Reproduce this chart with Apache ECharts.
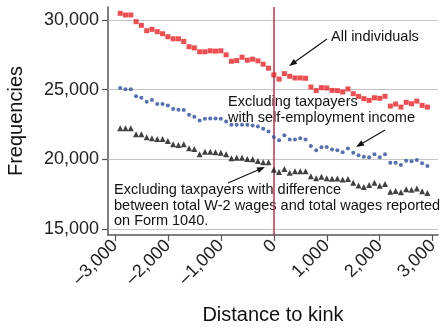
<!DOCTYPE html>
<html>
<head>
<meta charset="utf-8">
<script src="https://cdn.jsdelivr.net/npm/echarts@6/dist/echarts.min.js"></script>
<style>
  html, body { margin: 0; padding: 0; background: #fff; }
  #chart { width: 443px; height: 328px; }
</style>
</head>
<body>
<div id="chart"></div>
<script>
// Bin positions (distance to kink)
const distance = [-2900, -2800, -2700, -2600, -2500, -2400, -2300, -2200, -2100, -2000,
  -1900, -1800, -1700, -1600, -1500, -1400, -1300, -1200, -1100, -1000,
  -900, -800, -700, -600, -500, -400, -300, -200, -100, 0,
  100, 200, 300, 400, 500, 600, 700, 800, 900, 1000,
  1100, 1200, 1300, 1400, 1500, 1600, 1700, 1800, 1900, 2000,
  2100, 2200, 2300, 2400, 2500, 2600, 2700, 2800, 2900];

// All individuals
const allIndividuals = [30480, 30360, 30360, 29880, 29615, 29230, 29330, 29160, 29015, 28800,
  28650, 28650, 28460, 28080, 28000, 27720, 27720, 27790, 27765, 27790,
  27500, 27040, 27090, 27330, 27115, 27190, 27070, 26830, 26540, 26060,
  25760, 26150, 25960, 25840, 25840, 25815, 25190, 24930, 25145, 25120,
  24950, 24930, 24830, 25050, 24710, 24520, 24350, 24230, 24420, 24375,
  24520, 23820, 23970, 23750, 24090, 23990, 24180, 23870, 23750];

// Excluding taxpayers with self-employment income
const noSelfEmployment = [25120, 25024, 25024, 24520, 24423, 24135, 24255, 23966, 23966, 23870,
  23606, 23558, 23534, 23197, 23053, 22788, 22909, 22933, 22933, 22909,
  22716, 22476, 22476, 22476, 22476, 22428, 22356, 22188, 21995, 21610,
  21370, 21730, 21418, 21418, 21514, 21418, 20960, 20650, 20865, 20890,
  20700, 20650, 20505, 20770, 20480, 20290, 20190, 20145, 20360, 20145,
  20360, 19760, 19760, 19590, 19900, 19855, 19950, 19710, 19520];

// Excluding taxpayers with a W-2 / Form 1040 wage difference
const noWageDifference = [22230, 22230, 22230, 21800, 21800, 21580, 21510, 21460, 21460, 21320,
  21080, 21030, 21080, 20790, 20740, 20360, 20550, 20550, 20500, 20480,
  20360, 20070, 20120, 20120, 20030, 20000, 19880, 19790, 19790, 19260,
  19090, 19300, 19030, 19140, 19140, 19140, 18780, 18640, 18750, 18650,
  18600, 18620, 18560, 18580, 18320, 18120, 18020, 18150, 18320, 18100,
  18230, 17680, 17720, 17640, 17860, 17820, 17910, 17710, 17590];

// Axis ticks
const yTicks = [15000, 20000, 25000, 30000];
const xTicks = [-3000, -2000, -1000, 0, 1000, 2000, 3000];
const kink = 0;

const FONT = '"Liberation Sans", Arial, Helvetica, sans-serif';

function pairs(vals) {
  return distance.map((d, i) => [d, vals[i]]);
}
function fmt(v) {
  const s = Math.abs(v).toLocaleString('en-US');
  return v < 0 ? '\u2013' + s : s;
}

// Straight arrow with a filled head ending at (x2, y2)
function arrow(x1, y1, x2, y2) {
  const dx = x2 - x1, dy = y2 - y1;
  const len = Math.sqrt(dx * dx + dy * dy);
  const ux = dx / len, uy = dy / len;
  const hl = 8, hw = 3;
  const bx = x2 - ux * hl, by = y2 - uy * hl;
  return [
    { type: 'line', silent: true,
      shape: { x1: x1, y1: y1, x2: bx + ux * 1, y2: by + uy * 1 },
      style: { stroke: '#111', lineWidth: 1.1 } },
    { type: 'polygon', silent: true,
      shape: { points: [[x2, y2], [bx - uy * hw, by + ux * hw], [bx + uy * hw, by - ux * hw]] },
      style: { fill: '#111' } }
  ];
}
function label(x, y, text) {
  return { type: 'text', silent: true, x: x, y: y,
    style: { text: text, font: '14.5px ' + FONT, fill: '#111', textVerticalAlign: 'middle' } };
}

const chart = echarts.init(document.getElementById('chart'), null, { renderer: 'canvas' });

const option = {
  animation: false,
  backgroundColor: '#fff',
  grid: { left: 108, right: 5, top: 7, bottom: 93, containLabel: false, outerBoundsMode: 'none' },
  xAxis: {
    type: 'value', min: -3130, max: 3100,
    name: 'Distance to kink', nameLocation: 'middle', nameGap: 70,
    nameTextStyle: { fontFamily: FONT, fontSize: 20, color: '#111' },
    axisLine: { show: true, onZero: false, lineStyle: { color: '#555', width: 1.5 } },
    axisTick: { show: true, length: 6, customValues: xTicks, lineStyle: { color: '#555', width: 1.2 } },
    axisLabel: { customValues: xTicks, rotate: 45, margin: 8, fontFamily: FONT, fontSize: 18, color: '#222',
      formatter: fmt },
    splitLine: { show: false }
  },
  yAxis: {
    type: 'value', min: 14569, max: 30933,
    name: 'Frequencies', nameLocation: 'middle', nameGap: 82,
    nameTextStyle: { fontFamily: FONT, fontSize: 20, color: '#111' },
    axisLine: { show: true, onZero: false, lineStyle: { color: '#555', width: 1.5 } },
    axisTick: { show: true, length: 6, customValues: yTicks, lineStyle: { color: '#555', width: 1.2 } },
    axisLabel: { customValues: yTicks, margin: 9, fontFamily: FONT, fontSize: 18, color: '#222',
      formatter: fmt },
    splitLine: { show: false }
  },
  series: [
    {
      name: 'All individuals', type: 'scatter', symbol: 'rect', symbolSize: 5,
      itemStyle: { color: '#ee2026' }, data: pairs(allIndividuals), z: 5,
      markLine: {
        silent: true, symbol: 'none', label: { show: false },
        data: yTicks.map(v => ({ yAxis: v, lineStyle: { color: '#c4c4c4', width: 1, type: 'solid' } }))
          .concat([{ xAxis: kink, lineStyle: { color: '#cf3654', width: 1.6, type: 'solid' } }]),
        z: 1
      }
    },
    {
      name: 'Excluding taxpayers with self-employment income', type: 'scatter', symbol: 'circle', symbolSize: 4,
      itemStyle: { color: '#2c4ca6' }, data: pairs(noSelfEmployment), z: 5
    },
    {
      name: 'Excluding taxpayers with difference', type: 'scatter', symbol: 'triangle', symbolSize: 6,
      itemStyle: { color: '#111' }, data: pairs(noWageDifference), z: 5
    }
  ],
  graphic: [
    label(331, 37, 'All individuals'),
    label(228, 102, 'Excluding taxpayers'),
    label(228, 118, 'with self-employment income'),
    label(114, 190, 'Excluding taxpayers with difference'),
    label(114, 205.5, 'between total W-2 wages and total wages reported'),
    label(114, 221, 'on Form 1040.')
  ].concat(arrow(327, 39, 289, 66), arrow(385, 130, 356, 147), arrow(228, 183, 265, 167))
};

chart.setOption(option);
</script>
</body>
</html>
